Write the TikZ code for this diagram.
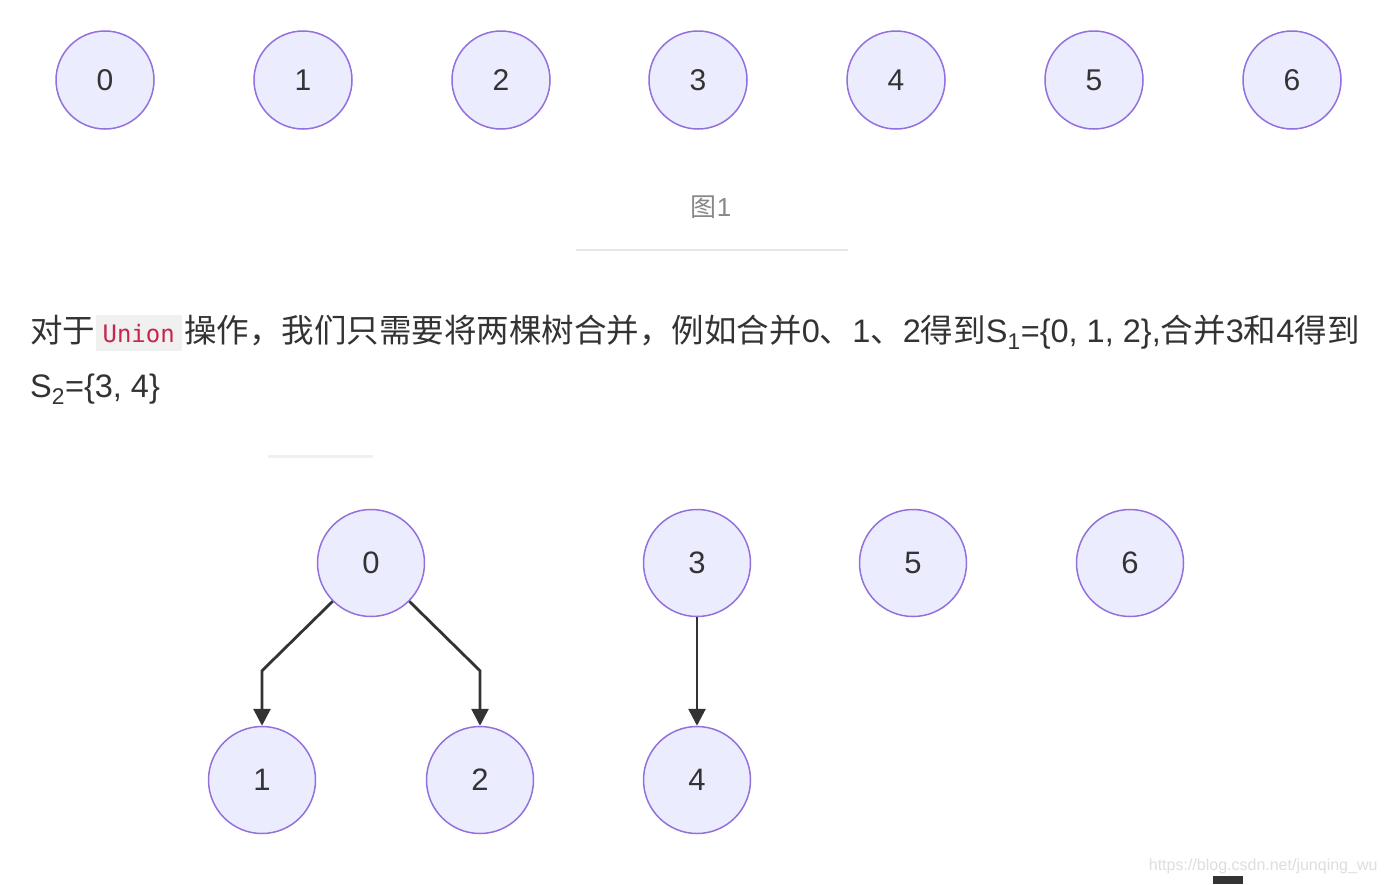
\documentclass[tikz,border=0pt]{standalone}
\usepackage{fontspec}
\setmainfont{Liberation Sans}
\newfontfamily\cjk{Noto Sans CJK SC}
\newfontfamily\codefont{DejaVu Sans Mono}
\usetikzlibrary{arrows.meta,positioning,calc}

\definecolor{setfill}{HTML}{ECECFF}
\definecolor{setline}{HTML}{9370DB}
\definecolor{inkgray}{HTML}{333333}
\definecolor{codered}{HTML}{C7254E}
\definecolor{codebg}{HTML}{F0F0F0}
\definecolor{capgray}{HTML}{888888}
\definecolor{rulegray}{HTML}{E6E6E6}
\definecolor{markgray}{HTML}{DEDEDE}

\tikzset{
  elem/.style={circle, draw=setline, fill=setfill, line width=1.5pt,
    minimum size=98pt, inner sep=0pt, text=inkgray, font=\fontsize{30}{30}\selectfont},
  bigelem/.style={elem, minimum size=107pt, font=\fontsize{31}{31}\selectfont},
  link/.style={draw=inkgray, line width=2.8pt, -{Triangle[length=17pt,width=17pt]}},
  prose/.style={inner sep=0pt, text=inkgray, font=\fontsize{32.5}{32.5}\selectfont}
}

\begin{document}
\begin{tikzpicture}[x=1pt,y=-1pt]
\fill[white] (0,0) rectangle (1388,884);
\useasboundingbox (0,0) rectangle (1388,884);

% Figure 1: every element is its own set
\foreach \i/\x in {0/105,1/303,2/501,3/698,4/896,5/1094,6/1292} {
    \node[elem] (s\i) at (\x,80) {\i};
}
\node[text=capgray, font=\fontsize{26}{26}\selectfont] (cap) at (711,207) {{\cjk 图}1};
\draw[rulegray, line width=2pt] (576,250) -- (848,250);

% Paragraph
\node[prose, anchor=base west] (lineA) at (30,342) {\cjk 对于};
\node[base right=0pt of lineA, fill=codebg, text=codered, font=\codefont\fontsize{24}{24}\selectfont,
      inner xsep=7pt, inner ysep=4pt, text height=23pt, text depth=5pt] (union) {Union};
\node[prose, base right=2pt of union] (lineB) {{\cjk 操作，我们只需要将两棵树合并，例如合并}0{\cjk 、}1{\cjk 、}2{\cjk 得到}S\textsubscript{1}=\{0, 1, 2\},{\cjk 合并}3{\cjk 和}4{\cjk 得到}};
\node[prose, anchor=base west] (lineC) at (30,397) {S\textsubscript{2}=\{3, 4\}};
\draw[rulegray!60, line width=3pt] (268,456) -- (373,456);

% Figure 2: after union
\node[bigelem] (t0) at (371,563) {0};
\node[bigelem] (t3) at (697,563) {3};
\node[bigelem] (t5) at (913,563) {5};
\node[bigelem] (t6) at (1130,563) {6};
\node[bigelem] (t1) at (262,780) {1};
\node[bigelem] (t2) at (480,780) {2};
\node[bigelem] (t4) at (697,780) {4};

\draw[link] (t0.225) -- ([yshift=55pt]t1.north) -- (t1.north);
\draw[link] (t0.315) -- ([yshift=55pt]t2.north) -- (t2.north);
\draw[link] (t3) -- (t4);

% watermark
\node[anchor=east, text=markgray, font=\fontsize{16}{16}\selectfont] (mark) at (1381,866) {https://blog.csdn.net/junqing\_wu};
\fill[inkgray] (1213,876) rectangle (1243,884);
\end{tikzpicture}
\end{document}
